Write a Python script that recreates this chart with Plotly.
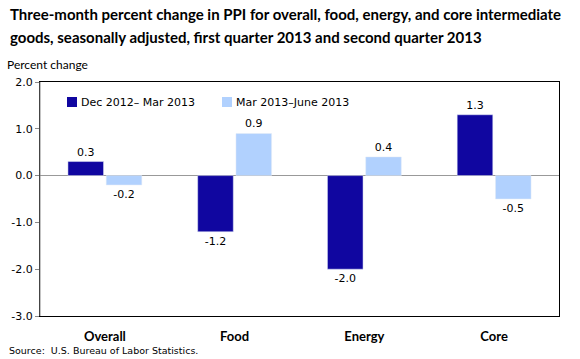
import plotly.graph_objects as go

categories = ["Overall", "Food", "Energy", "Core"]
series1_name = "Dec 2012\u2013 Mar 2013"
series2_name = "Mar 2013\u2013June 2013"
series1 = [0.3, -1.2, -2.0, 1.3]
series2 = [-0.2, 0.9, 0.4, -0.5]
tick_vals = [2.0, 1.0, 0.0, -1.0, -2.0, -3.0]
tick_text = ["2.0", "1.0", "0.0", "-1.0", "-2.0", "-3.0"]
title_lines = ["Three-month percent change in PPI for overall, food, energy, and core intermediate",
               "goods, seasonally adjusted, first quarter 2013 and second quarter 2013"]

dark = "#1006A0"
light = "#B1D1FE"
tfont = dict(family="DejaVu Sans", size=11, color="#000000")

W, H = 580, 359
ML, MR, MT, MB = 40, 21, 82, 43
PW, PH = W - ML - MR, H - MT - MB

def px(x):
    return (x - ML) / PW

def py(y):
    return 1 - (y - MT) / PH

fig = go.Figure()
fig.add_trace(go.Bar(name=series1_name, x=categories, y=series1, marker_color=dark,
                     text=[f"{v:.1f}" for v in series1], textposition="outside",
                     textfont=tfont, cliponaxis=False))
fig.add_trace(go.Bar(name=series2_name, x=categories, y=series2, marker_color=light,
                     text=[f"{v:.1f}" for v in series2], textposition="outside",
                     textfont=tfont, cliponaxis=False))

fig.update_layout(
    width=W, height=H,
    margin=dict(l=ML, r=MR, t=MT, b=MB),
    paper_bgcolor="white", plot_bgcolor="white",
    barmode="group", bargap=0.41, bargroupgap=0.07,
    showlegend=False,
    font=dict(family="DejaVu Sans", size=11, color="#000"),
    xaxis=dict(showline=True, linecolor="#000", linewidth=1, mirror=True,
               tickfont=dict(family="Lato", size=13, color="#000"),
               ticks="outside", ticklen=8, tickcolor="rgba(0,0,0,0)", showgrid=False),
    yaxis=dict(range=[-3.0, 2.0], tickvals=tick_vals, ticktext=tick_text,
               showline=True, linecolor="#000", linewidth=1, mirror=True,
               ticks="outside", ticklen=4, tickcolor="#888",
               showgrid=False, zeroline=True, zerolinecolor="#999", zerolinewidth=1,
               tickfont=tfont),
)
fig.update_xaxes(tickprefix="<b>", ticksuffix="</b>")
# gray left axis overlay
fig.add_shape(type="line", xref="paper", yref="paper", x0=0, x1=0, y0=0, y1=1,
              line=dict(color="#888", width=1))

# title lines
for line, yc in zip(title_lines, [14, 37]):
    fig.add_annotation(text=f"<b>{line}</b>", xref="paper", yref="paper", x=px(8), y=py(yc),
                       xanchor="left", yanchor="middle", showarrow=False,
                       font=dict(family="Lato", size=15, color="#000"))

# manual legend
legend_items = [(series1_name, dark, 67), (series2_name, light, 222)]
for name, col, x0 in legend_items:
    fig.add_shape(type="rect", xref="paper", yref="paper",
                  x0=px(x0), x1=px(x0 + 10), y0=py(107), y1=py(97),
                  fillcolor=col, line=dict(width=0))
    fig.add_annotation(text=name, xref="paper", yref="paper", x=px(x0 + 12), y=py(102),
                       xanchor="left", yanchor="middle", showarrow=False, font=tfont)

fig.add_annotation(text="Percent change", xref="paper", yref="paper", x=px(5), y=py(64),
                   xanchor="left", yanchor="middle", showarrow=False,
                   font=dict(family="Lato", size=12, color="#000"))
fig.add_annotation(text="Source:  U.S. Bureau of Labor Statistics.", xref="paper", yref="paper",
                   x=px(7), y=py(350), xanchor="left", yanchor="middle", showarrow=False,
                   font=dict(family="DejaVu Sans", size=9.5, color="#000"))

fig.write_html("out.html", config={"displayModeBar": False},
               post_script="document.body.style.margin='0';document.body.style.overflow='hidden';")
